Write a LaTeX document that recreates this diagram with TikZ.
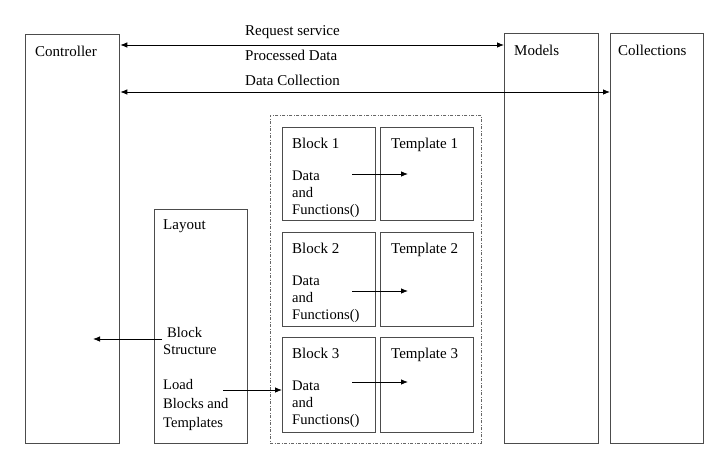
\documentclass[tikz,border=0pt]{standalone}
\usepackage{fontspec}
\setmainfont{Liberation Serif}
\usetikzlibrary{arrows.meta}
\begin{document}
\begin{tikzpicture}[x=1pt,y=-1pt,
  box/.style={draw=black!70, line width=1.3pt, anchor=north west, inner sep=0pt},
  lbl/.style={anchor=base west, inner sep=0pt, font=\fontsize{15}{17}\selectfont},
  mlbl/.style={anchor=north west, inner sep=0pt, align=left, font=\fontsize{14.6}{17}\selectfont},
  conn/.style={draw=black, line width=0.8pt, -{Latex[length=7pt,width=5.5pt]}},
  dconn/.style={draw=black, line width=0.8pt, {Latex[length=7pt,width=5.5pt]}-{Latex[length=7pt,width=5.5pt]}},
  group/.style={draw=black!60, line width=0.8pt, dash pattern=on 3pt off 1.5pt on 1pt off 1.5pt, anchor=north west, inner sep=0pt}]
\useasboundingbox[fill=white] (0,0) rectangle (727,468);

% main boxes
\node[box, minimum width=94pt, minimum height=409pt] (ctrl) at (25,34) {};
\node[box, minimum width=94pt, minimum height=410pt] (models) at (504,33) {};
\node[box, minimum width=93pt, minimum height=410pt] (coll) at (610,33) {};
\node[box, minimum width=93pt, minimum height=234pt] (layout) at (154,209) {};
\node[group, minimum width=211pt, minimum height=328pt] (grp) at (270,115) {};

% blocks and templates
\node[box, minimum width=93pt, minimum height=93pt] (b1) at (282,127) {};
\node[box, minimum width=93pt, minimum height=93pt] (t1) at (380,127) {};
\node[box, minimum width=93pt, minimum height=94pt] (b2) at (282,232) {};
\node[box, minimum width=93pt, minimum height=94pt] (t2) at (380,232) {};
\node[box, minimum width=93pt, minimum height=95pt] (b3) at (282,337) {};
\node[box, minimum width=93pt, minimum height=95pt] (t3) at (380,337) {};

% labels
\node[lbl] (lctrl) at (35,57) {Controller};
\node[lbl] (lmod) at (514,56) {Models};
\node[lbl] (lcoll) at (618,56) {Collections};
\node[lbl] (lreq) at (245,36) {Request service};
\node[lbl] (lproc) at (245,61) {Processed Data};
\node[lbl] (ldc) at (245,86) {Data Collection};
\node[lbl] (llay) at (163,229) {Layout};
\node[mlbl] (lbs) at (163,327) {\hspace*{4pt}Block\\Structure};
\node[mlbl, font=\fontsize{14.6}{19}\selectfont] (lload) at (163,379) {Load\\Blocks and\\Templates};

\node[lbl] (lb1) at (292,148) {Block 1};
\node[lbl] (lt1) at (391,148) {Template 1};
\node[mlbl] (ld1) at (292,171) {Data\\and\\Functions()};
\node[lbl] (lb2) at (292,253) {Block 2};
\node[lbl] (lt2) at (391,253) {Template 2};
\node[mlbl] (ld2) at (292,276) {Data\\and\\Functions()};
\node[lbl] (lb3) at (292,358) {Block 3};
\node[lbl] (lt3) at (391,358) {Template 3};
\node[mlbl] (ld3) at (292,381) {Data\\and\\Functions()};

% helper coordinates
\coordinate (r1) at (0,45);
\coordinate (r2) at (0,92);
\coordinate (bsS) at (162,339);
\coordinate (bsE) at (93,339);
\coordinate (ldS) at (223,390);
\coordinate (a1s) at (352,174);
\coordinate (a1e) at (408,174);
\coordinate (a2s) at (352,291);
\coordinate (a2e) at (408,291);
\coordinate (a3s) at (352,382);
\coordinate (a3e) at (408,382);

% connectors
\draw[dconn] (ctrl.east |- r1) -- (models.west |- r1);
\draw[dconn] (ctrl.east |- r2) -- (coll.west |- r2);
\draw[conn] (bsS) -- (bsE);
\draw[conn] (ldS) -- (b3.west |- ldS);
\draw[conn] (a1s) -- (a1e);
\draw[conn] (a2s) -- (a2e);
\draw[conn] (a3s) -- (a3e);
\end{tikzpicture}
\end{document}
